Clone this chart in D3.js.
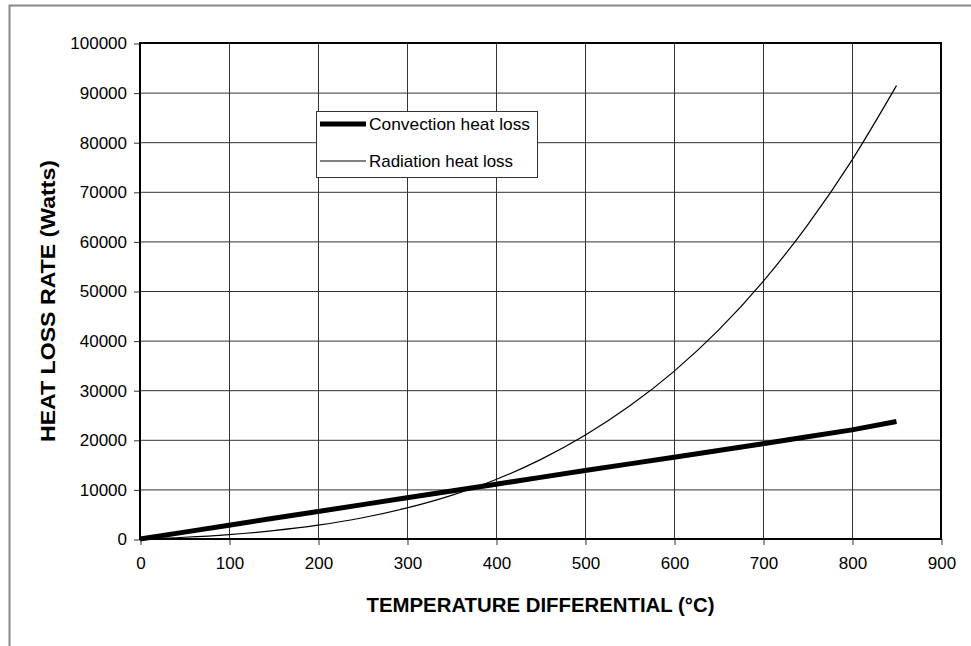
<!DOCTYPE html>
<html><head><meta charset="utf-8">
<script src="https://cdn.jsdelivr.net/npm/d3@7"></script>
<style>body{margin:0;background:#fff}svg{display:block}</style>
</head><body>
<svg id="c" width="971" height="646"></svg>
<script>
const xTicks = [0,100,200,300,400,500,600,700,800,900];
const yTicks = [0,10000,20000,30000,40000,50000,60000,70000,80000,90000,100000];
const tempDiff = [0,50,100,150,200,250,300,350,400,450,500,550,600,650,700,750,800,850];
const convection = [0,1390,2790,4170,5550,6930,8300,9680,11050,12430,13800,15150,16500,17850,19200,20600,22000,23700];
const radiation = [0,350,890,1680,2780,4280,6260,8800,12000,16000,20900,26800,33800,42100,51900,63300,76400,91400];
const seriesNames = ["Convection heat loss","Radiation heat loss"];
const xTitle = "TEMPERATURE DIFFERENTIAL (°C)";
const yTitle = "HEAT LOSS RATE (Watts)";

const svg = d3.select("#c");
const font = "'Liberation Sans', Arial, sans-serif";
svg.append("rect").attr("x",9.5).attr("y",5.5).attr("width",1000).attr("height",700)
  .attr("fill","#fff").attr("stroke","#888").attr("stroke-width",2);

const L=140,R=941,T=43,B=539;
const x = d3.scaleLinear().domain([0,900]).range([L,R]);
const y = d3.scaleLinear().domain([0,100000]).range([B,T]);

// grid
const g = svg.append("g");
g.selectAll(".vg").data(xTicks).join("line")
  .attr("x1",d=>x(d)+0.5).attr("x2",d=>x(d)+0.5).attr("y1",T).attr("y2",B)
  .attr("stroke","#333").attr("stroke-width",1);
g.selectAll(".hg").data(yTicks).join("line")
  .attr("y1",d=>y(d)+0.5).attr("y2",d=>y(d)+0.5).attr("x1",L).attr("x2",R)
  .attr("stroke","#333").attr("stroke-width",1);

// axes
const xAxis = d3.axisBottom(x).tickValues(xTicks).tickFormat(d3.format("d")).tickSize(6).tickPadding(12);
const yAxis = d3.axisLeft(y).tickValues(yTicks).tickFormat(d3.format("d")).tickSize(6).tickPadding(7);
const gx = svg.append("g").attr("transform",`translate(0.5,${B})`).call(xAxis);
const gy = svg.append("g").attr("transform",`translate(${L},0.5)`).call(yAxis);
[gx,gy].forEach(a=>{
  a.select(".domain").remove();
  a.selectAll(".tick line").attr("stroke","#333");
  a.selectAll("text").attr("font-family",font).attr("font-size",17).attr("fill","#000");
});

// frame
svg.append("rect").attr("x",L).attr("y",T).attr("width",R-L).attr("height",B-T)
  .attr("fill","none").attr("stroke","#000").attr("stroke-width",2);

// lines
const data = tempDiff.map((t,i)=>({t,c:convection[i],r:radiation[i]}));
const lc = d3.line().x(d=>x(d.t)).y(d=>y(d.c));
const lr = d3.line().x(d=>x(d.t)).y(d=>y(d.r)).curve(d3.curveMonotoneX);
svg.append("path").datum(data).attr("d",lr).attr("fill","none").attr("stroke","#000").attr("stroke-width",1.2);
svg.append("path").datum(data).attr("d",lc).attr("fill","none").attr("stroke","#000").attr("stroke-width",5);

// legend
const lg = svg.append("g");
lg.append("rect").attr("x",316.5).attr("y",111.5).attr("width",221).attr("height",66)
  .attr("fill","#fff").attr("stroke","#333").attr("stroke-width",1);
[5,1].forEach((w,i)=>{
  const yy = 124 + i*37;
  lg.append("line").attr("x1",320).attr("x2",366).attr("y1",yy).attr("y2",yy)
    .attr("stroke","#000").attr("stroke-width",w);
  lg.append("text").attr("x",369).attr("y",yy+6).text(seriesNames[i])
    .attr("font-family",font).attr("font-size",17)
    .attr("textLength", i===0?161:144).attr("lengthAdjust","spacingAndGlyphs");
});

// titles
svg.append("text").attr("x",(L+R)/2).attr("y",612).attr("text-anchor","middle")
  .attr("font-family",font).attr("font-weight","bold").attr("font-size",20)
  .attr("textLength",348).attr("lengthAdjust","spacingAndGlyphs").text(xTitle);
svg.append("text").attr("transform","translate(55,301) rotate(-90)").attr("text-anchor","middle")
  .attr("font-family",font).attr("font-weight","bold").attr("font-size",21)
  .attr("textLength",282).attr("lengthAdjust","spacingAndGlyphs").text(yTitle);
</script>
</body></html>
